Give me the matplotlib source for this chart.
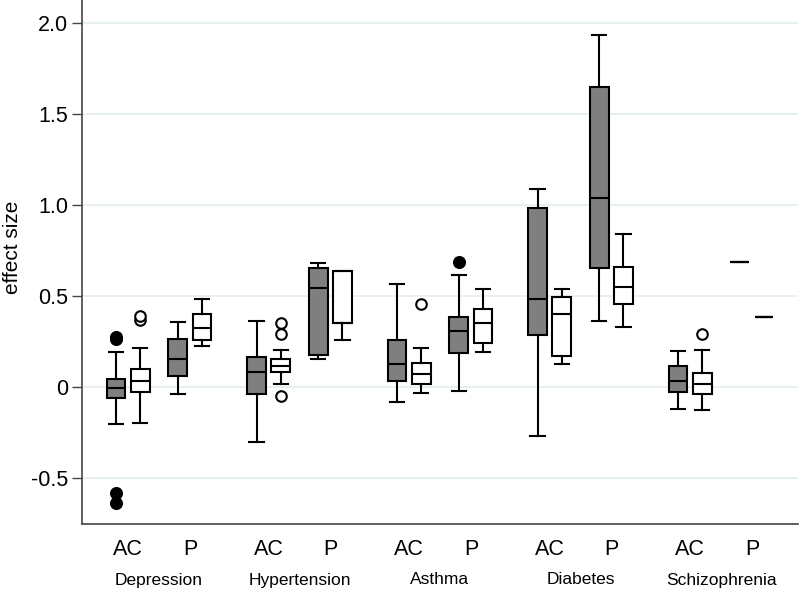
import numpy as np
import matplotlib.pyplot as plt
from matplotlib import transforms

plt.rcParams['font.family'] = ['Liberation Sans', 'DejaVu Sans']

diseases = ['Depression', 'Hypertension', 'Asthma', 'Diabetes', 'Schizophrenia']
types = ['AC', 'P']

# order: Dep AC, Dep P, Hyp AC, Hyp P, Ast AC, Ast P, Dia AC, Dia P, Sch AC, Sch P
# grey boxes
gray_lo  = [-0.203, -0.037, -0.302, 0.156, -0.084, -0.020, -0.269, 0.364, -0.119, 0.688]
gray_q1  = [-0.062, 0.062, -0.040, 0.176, 0.033, 0.185, 0.284, 0.652, -0.029, 0.688]
gray_med = [-0.007, 0.154, 0.084, 0.546, 0.126, 0.309, 0.484, 1.036, 0.033, 0.688]
gray_q3  = [0.042, 0.264, 0.167, 0.656, 0.260, 0.386, 0.985, 1.648, 0.115, 0.688]
gray_hi  = [0.192, 0.355, 0.364, 0.679, 0.564, 0.614, 1.090, 1.934, 0.196, 0.688]
gray_fliers = [[0.262, 0.275, -0.584, -0.636], [], [], [], [], [0.689], [], [], [], []]

# white boxes
white_lo  = [-0.196, 0.227, 0.016, 0.258, -0.035, 0.194, 0.128, 0.328, -0.126, 0.386]
white_q1  = [-0.026, 0.258, 0.082, 0.353, 0.015, 0.244, 0.170, 0.454, -0.037, 0.386]
white_med = [0.035, 0.322, 0.115, 0.353, 0.070, 0.350, 0.399, 0.549, 0.015, 0.386]
white_q3  = [0.097, 0.401, 0.156, 0.637, 0.132, 0.427, 0.492, 0.659, 0.079, 0.386]
white_hi  = [0.212, 0.485, 0.203, 0.637, 0.216, 0.540, 0.536, 0.841, 0.203, 0.386]
white_fliers = [[0.366, 0.388], [], [0.350, 0.290, -0.048], [], [0.458], [], [], [], [0.293], []]

yticks = [-0.5, 0, 0.5, 1.0, 1.5, 2.0]
ytick_labels = ['-0.5', '0', '0.5', '1.0', '1.5', '2.0']


def make_stats(lo, q1, med, q3, hi, fl):
    return [dict(whislo=a, q1=b, med=c, q3=d, whishi=e, fliers=f)
            for a, b, c, d, e, f in zip(lo, q1, med, q3, hi, fl)]


# positions: one unit per disease group
p_off = 0.441
w_off = 0.171
bw = 0.135
gray_pos = [i + j * p_off for i in range(len(diseases)) for j in range(len(types))]
white_pos = [p + w_off for p in gray_pos]

fig = plt.figure(figsize=(8, 5.9), dpi=100)
ax = fig.add_axes([82 / 800, 66 / 590, 716 / 800, 524 / 590])

lw = 1.5
common = dict(widths=bw, capwidths=0.1, patch_artist=True,
              medianprops=dict(color='black', lw=lw),
              whiskerprops=dict(color='black', lw=lw),
              capprops=dict(color='black', lw=lw))

ax.bxp(make_stats(gray_lo, gray_q1, gray_med, gray_q3, gray_hi, gray_fliers),
       positions=gray_pos,
       boxprops=dict(facecolor='#7f7f7f', edgecolor='black', lw=lw),
       flierprops=dict(marker='o', markerfacecolor='black', markeredgecolor='black', markersize=8.4),
       **common)
ax.bxp(make_stats(white_lo, white_q1, white_med, white_q3, white_hi, white_fliers),
       positions=white_pos,
       boxprops=dict(facecolor='white', edgecolor='black', lw=lw),
       flierprops=dict(marker='o', markerfacecolor='white', markeredgecolor='black',
                       markersize=7.6, markeredgewidth=1.5),
       **common)

ax.set_xlim(-0.242, 4.854)
ax.set_ylim(-0.753, 387 / 182)

ax.set_yticks(yticks)
ax.set_yticklabels(ytick_labels, fontsize=15.5)
ax.yaxis.grid(True, color='#e3eef0', lw=1.2)
ax.set_axisbelow(True)

xt = [p + w_off / 2 for p in gray_pos]
ax.set_xticks(xt)
ax.set_xticklabels(types * len(diseases), fontsize=15.5)
ax.tick_params(axis='x', length=0, pad=10.5)
ax.tick_params(axis='y', length=7, width=1, color='#444444', pad=3)

for s in ['top', 'right']:
    ax.spines[s].set_visible(False)
for s in ['left', 'bottom']:
    ax.spines[s].set_color('#444444')
    ax.spines[s].set_linewidth(1.2)

trans = transforms.blended_transform_factory(ax.transData, ax.transAxes)
for i, d in enumerate(diseases):
    ax.text(i + (p_off + w_off) / 2, -56 / 524, d, transform=trans,
            ha='center', va='center', fontsize=12.5)

fig.text(13 / 800, 1 - 247 / 590, 'effect size', rotation=90,
         ha='center', va='center', fontsize=15)

fig.savefig('out.png', dpi=100)
